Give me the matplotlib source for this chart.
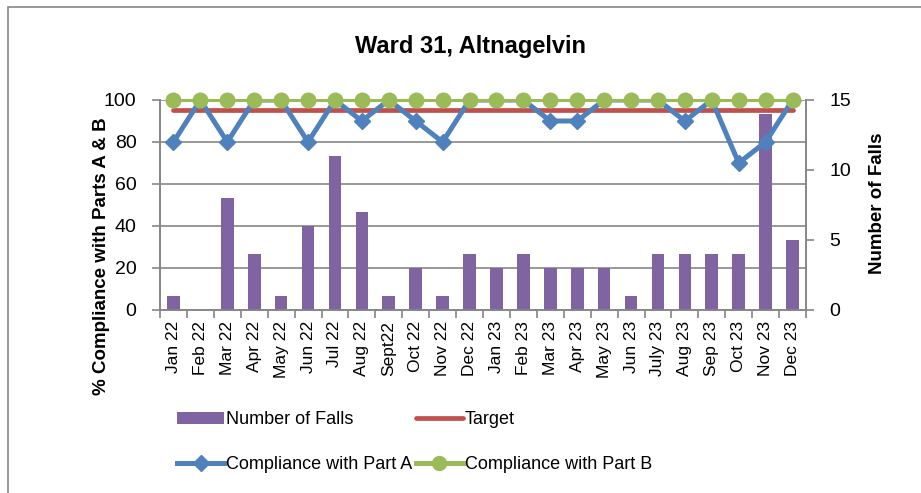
import matplotlib.pyplot as plt
from matplotlib.patches import Rectangle, Patch
from matplotlib.lines import Line2D

plt.rcParams['font.family'] = ['Liberation Sans', 'DejaVu Sans']

months = ['Jan 22', 'Feb 22', 'Mar 22', 'Apr 22', 'May 22', 'Jun 22', 'Jul 22',
          'Aug 22', 'Sept22', 'Oct 22', 'Nov 22', 'Dec 22', 'Jan 23', 'Feb 23',
          'Mar 23', 'Apr 23', 'May 23', 'Jun 23', 'July 23', 'Aug 23', 'Sep 23',
          'Oct 23', 'Nov 23', 'Dec 23']
falls = [1, 0, 8, 4, 1, 6, 11, 7, 1, 3, 1, 4, 3, 4, 3, 3, 3, 1, 4, 4, 4, 4, 14, 5]
part_a = [80, 100, 80, 100, 100, 80, 100, 90, 100, 90, 80, 100,
          100, 100, 90, 90, 100, 100, 100, 90, 100, 70, 80, 100]
part_b = [100] * 24
target = [95] * 24

pct_ticks = [0, 20, 40, 60, 80, 100]
fall_ticks = [0, 5, 10, 15]

W, H = 921, 493
fig = plt.figure(figsize=(W / 100, H / 100), dpi=100)
grey = '#868686'

# outer chart border (runs off the right and bottom edges)
fig.add_artist(Rectangle((8 / W, -0.2), 1.2, 1 - 7 / H + 0.2, transform=fig.transFigure,
                         fill=False, edgecolor=grey, linewidth=1.2))

ax_f = fig.add_axes([160 / W, 1 - 310 / H, 646 / W, 210 / H])
ax_p = ax_f.twinx()
x = list(range(len(months)))

# bars on the falls axis (drawn underneath)
ax_f.bar(x, falls, width=0.47, color='#8064A2', zorder=3)
ax_f.set_ylim(0, 15)
ax_f.set_yticks(fall_ticks)
ax_f.yaxis.tick_right()
for v in pct_ticks[1:]:
    ax_f.axhline(v * 15 / 100, color=grey, linewidth=1.2, zorder=1)

# percentage lines on top
ax_p.plot(x, target, color='#C0504D', linewidth=3.4, solid_capstyle='round', zorder=3)
ax_p.plot(x, part_a, color='#4F81BD', linewidth=3.6, marker='D', markersize=8,
          zorder=4)
ax_p.plot(x, part_b, color='#9BBB59', linewidth=2.2, marker='o', markersize=10.5,
          zorder=5, clip_on=False)
ax_p.set_ylim(0, 100)
ax_p.set_yticks(pct_ticks)
ax_p.yaxis.tick_left()

ax_f.set_xlim(-0.5, len(months) - 0.5)
ax_f.set_xticks([i - 0.5 for i in range(len(months) + 1)])
ax_f.set_xticklabels([])
ax_f.set_xticks(x, minor=True)
ax_f.set_xticklabels(months, minor=True, rotation=90, fontsize=12.5)
ax_f.tick_params(axis='x', which='minor', length=0, pad=8)
ax_f.tick_params(axis='x', which='major', length=6, color=grey, width=1.2)

for a in (ax_f, ax_p):
    a.spines['top'].set_visible(False)
    for s in ('left', 'right', 'bottom'):
        a.spines[s].set_color(grey)
        a.spines[s].set_linewidth(1.2)
    a.tick_params(axis='y', length=6, color=grey, width=1.2, labelsize=14, pad=11)

fig.text(470 / W, 1 - 47 / H, 'Ward 31, Altnagelvin', ha='center', va='center',
         fontsize=17, fontweight='bold')
fig.text(102 / W, 1 - 256 / H, '% Compliance with Parts A & B', rotation=90,
         ha='center', va='center', fontsize=13.5, fontweight='bold')
fig.text(877 / W, 1 - 203 / H, 'Number of Falls', rotation=90,
         ha='center', va='center', fontsize=13.5, fontweight='bold')

handles = [
    Patch(facecolor='#8064A2'),
    Line2D([], [], color='#4F81BD', linewidth=3.6, marker='D', markersize=8),
    Line2D([], [], color='#C0504D', linewidth=3.4, solid_capstyle='round'),
    Line2D([], [], color='#9BBB59', linewidth=3.6, marker='o', markersize=10),
]
labels = ['Number of Falls', 'Compliance with Part A', 'Target', 'Compliance with Part B']
fig.legend(handles, labels, ncol=2, loc='upper left', bbox_to_anchor=(170 / W, 1 - 404 / H),
           frameon=False, fontsize=13, handlelength=2.6, handletextpad=0.1,
           columnspacing=0.2, labelspacing=1.55, borderaxespad=0)

fig.savefig('out.png', dpi=100)
